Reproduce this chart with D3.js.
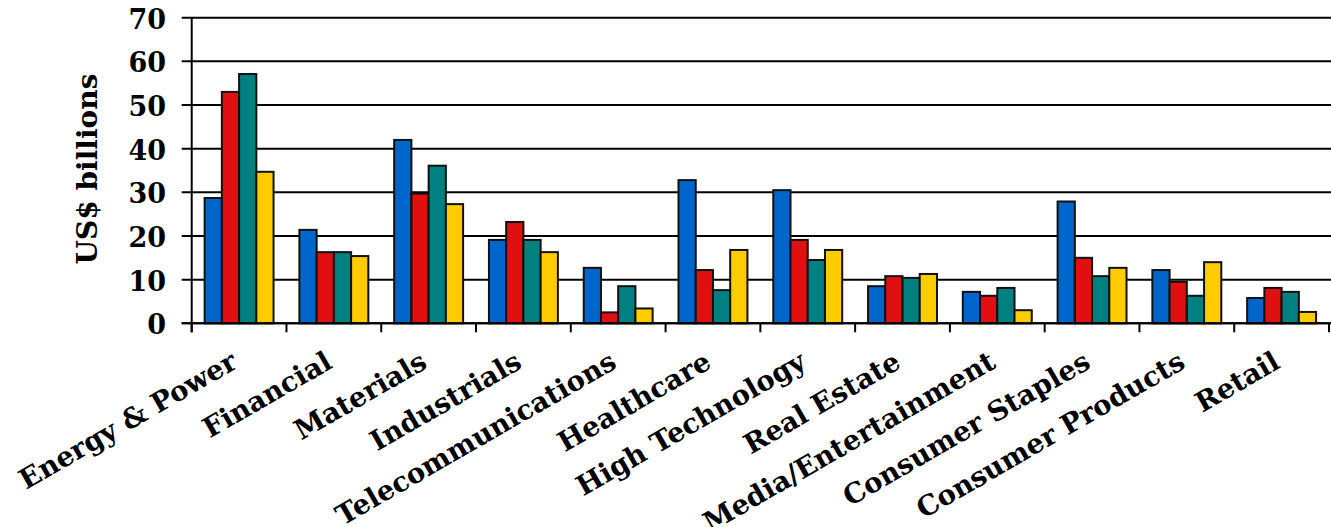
<!DOCTYPE html>
<html>
<head>
<meta charset="utf-8">
<script src="https://cdn.jsdelivr.net/npm/d3@7"></script>
<style>
  html, body { margin: 0; padding: 0; background: #fff; }
  svg { display: block; }
  text { font-family: "DejaVu Serif", serif; font-weight: bold; fill: #000; }
</style>
</head>
<body>
<svg id="chart" width="1331" height="527"></svg>
<script>
const categories = ["Energy & Power", "Financial", "Materials", "Industrials", "Telecommunications",
  "Healthcare", "High Technology", "Real Estate", "Media/Entertainment", "Consumer Staples",
  "Consumer Products", "Retail"];
const seriesNames = ["S1", "S2", "S3", "S4"];
const seriesBlue   = [28.7, 21.4, 42.0, 19.1, 12.7, 32.8, 30.5, 8.5, 7.2, 27.9, 12.2, 5.8];
const seriesRed    = [53.0, 16.3, 29.7, 23.2, 2.5, 12.2, 19.1, 10.8, 6.3, 15.0, 9.5, 8.1];
const seriesTeal   = [57.1, 16.3, 36.1, 19.1, 8.5, 7.6, 14.5, 10.4, 8.1, 10.8, 6.3, 7.2];
const seriesYellow = [34.7, 15.4, 27.3, 16.3, 3.4, 16.8, 16.8, 11.3, 3.0, 12.7, 14.0, 2.6];
const seriesColors = ["#0066CC", "#E01010", "#008080", "#FFCC00"];
const yTicks = [0, 10, 20, 30, 40, 50, 60, 70];
const yTitle = "US$ billions";

const allSeries = [seriesBlue, seriesRed, seriesTeal, seriesYellow];

const svg = d3.select("#chart");
const plotLeft = 191.7, plotRight = 1329, plotTop = 17.7, plotBottom = 323.3;

const x0 = d3.scaleBand().domain(categories).range([plotLeft, plotRight]).padding(0);
const x1 = d3.scaleBand().domain(seriesNames).range([0, x0.bandwidth()]).paddingInner(0).paddingOuter(0.75);
const y = d3.scaleLinear().domain([0, 70]).range([plotBottom, plotTop]);

// gridlines
svg.append("g").selectAll("line").data(yTicks).join("line")
  .attr("x1", plotLeft - 10).attr("x2", 1331)
  .attr("y1", d => y(d)).attr("y2", d => y(d))
  .attr("stroke", "#000").attr("stroke-width", 2);

// y tick labels
svg.append("g").selectAll("text").data(yTicks).join("text")
  .attr("x", 166).attr("y", d => y(d) + 11)
  .attr("text-anchor", "end")
  .style("font-size", "27px")
  .text(d => d);

// bars
const groups = svg.append("g").selectAll("g").data(categories).join("g")
  .attr("transform", d => `translate(${x0(d)},0)`);
groups.selectAll("rect")
  .data((c, i) => allSeries.map((s, k) => ({ key: seriesNames[k], value: s[i], color: seriesColors[k] })))
  .join("rect")
  .attr("x", d => x1(d.key))
  .attr("width", x1.bandwidth())
  .attr("y", d => y(d.value))
  .attr("height", d => y(0) - y(d.value))
  .attr("fill", d => d.color)
  .attr("stroke", "#111").attr("stroke-width", 2);

// y axis line
svg.append("line")
  .attr("x1", plotLeft).attr("x2", plotLeft).attr("y1", y(70)).attr("y2", plotBottom + 9)
  .attr("stroke", "#000").attr("stroke-width", 2);

// x category tick marks
const bounds = categories.map(c => x0(c)).concat([x0(categories[categories.length - 1]) + x0.bandwidth()]);
svg.append("g").selectAll("line").data(bounds).join("line")
  .attr("x1", d => d).attr("x2", d => d)
  .attr("y1", plotBottom).attr("y2", plotBottom + 9)
  .attr("stroke", "#000").attr("stroke-width", 2);

// baseline on top
svg.append("line")
  .attr("x1", plotLeft - 10).attr("x2", 1331).attr("y1", plotBottom).attr("y2", plotBottom)
  .attr("stroke", "#000").attr("stroke-width", 2);

// category labels
svg.append("g").selectAll("text").data(categories).join("text")
  .attr("transform", d => `translate(${x0(d) + x0.bandwidth() / 2},367) rotate(-30)`)
  .attr("text-anchor", "end")
  .style("font-size", "27.5px")
  .text(d => d);

// y title
svg.append("text")
  .attr("transform", "translate(97,169) rotate(-90)")
  .attr("text-anchor", "middle")
  .style("font-size", "28px")
  .text(yTitle);
</script>
</body>
</html>
